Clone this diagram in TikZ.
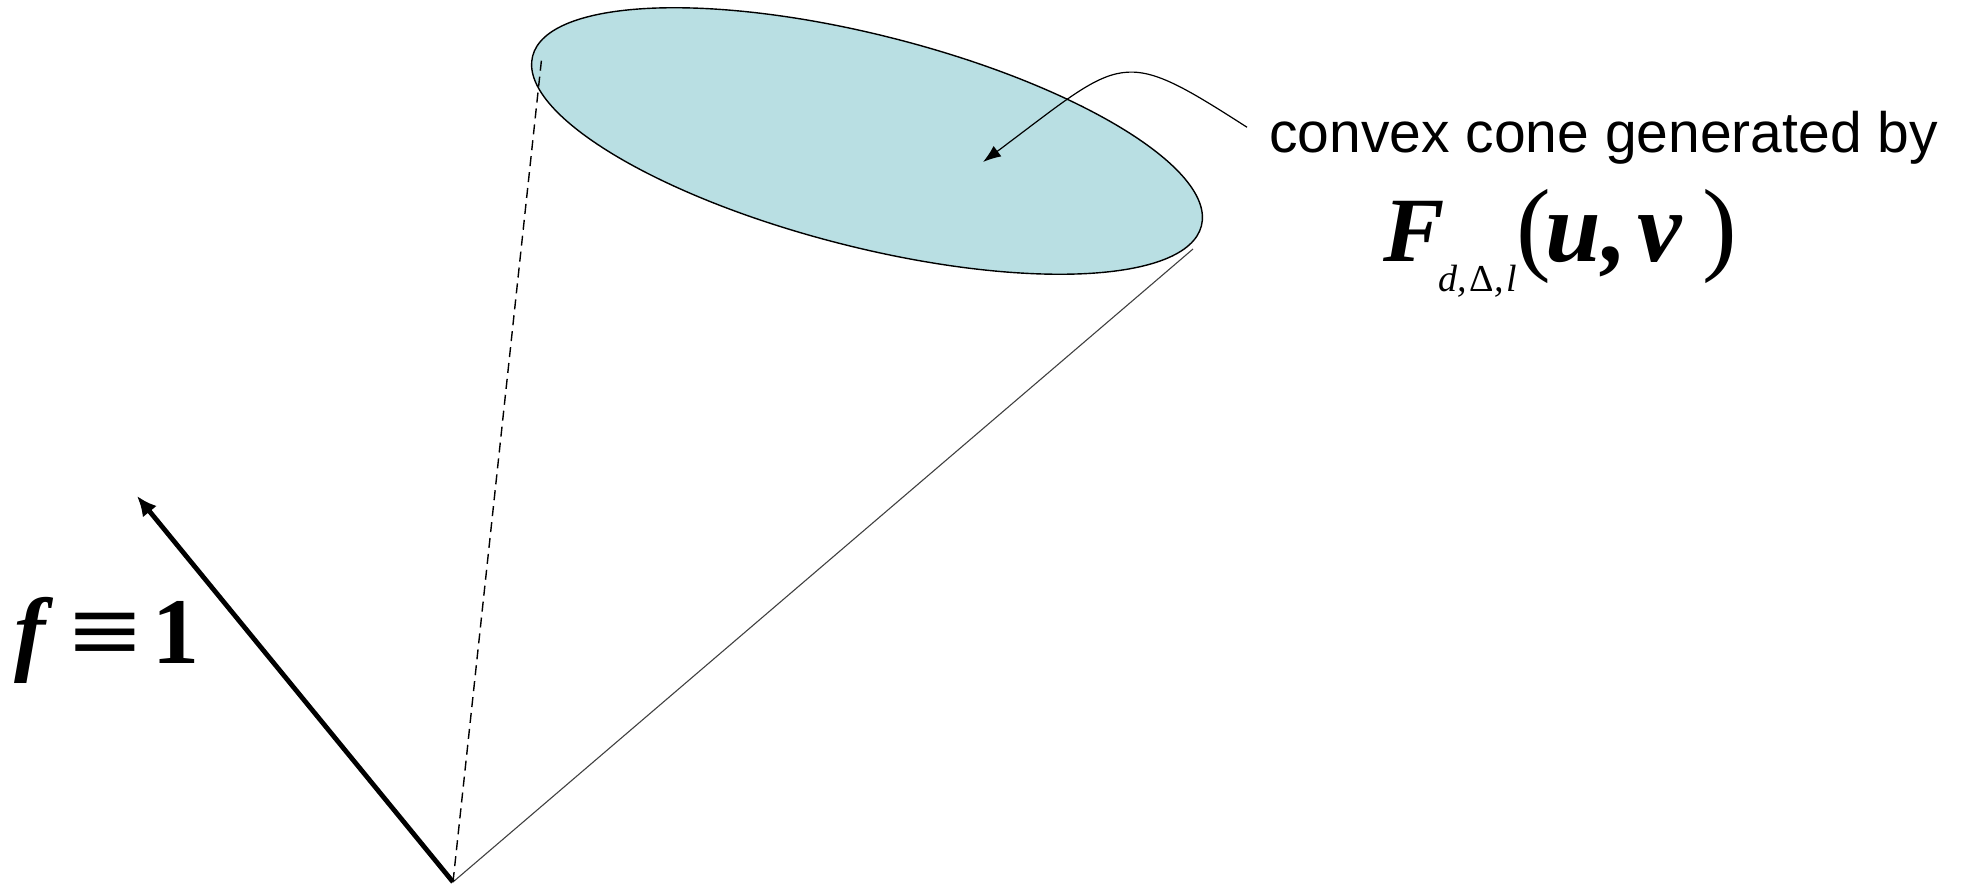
\documentclass[tikz,border=0pt]{standalone}
\usepackage{fontspec}
\setmainfont{Liberation Serif}
\newfontfamily\labelfont{Liberation Sans}
\usetikzlibrary{positioning,arrows.meta,shapes.geometric}
\definecolor{conecyan}{RGB}{185,223,227}

\begin{document}
\begin{tikzpicture}[
    x=0.5pt, y=-0.5pt,
    every node/.style={inner sep=0pt},
    rim/.style={
        draw,
        ellipse,
        line width=0.7pt,
        fill=conecyan,
        minimum width=345pt,
        minimum height=106pt
    },
    side/.style={line width=0.55pt, draw=black!75},
    hidden/.style={line width=0.7pt, dash pattern=on 5pt off 3pt},
    vector/.style={-{Latex[length=10pt,width=9pt]}, line width=2.4pt},
    pointer/.style={-{Latex[length=9pt,width=6.5pt]}, line width=0.6pt}
]
\useasboundingbox (0,0) rectangle (1969,887);

\coordinate (o) at (453,882);
\coordinate (top) at (542,55);
\coordinate (side) at (1193,249);
\coordinate (e) at (137,496);
\coordinate (aim) at (983,162);

\node[rim, rotate=-14.24] (disk) at (867,141) {};
\draw[hidden] (o) -- (top);
\draw[side] (o) -- (side);
\draw[vector] (o) -- (e);

\node[anchor=base west, font=\labelfont\fontsize{28.5pt}{34pt}\selectfont] (lab) at (1269,153) {convex cone generated by};
\node[anchor=base west] (gen) at (1383,262) {\fontsize{46pt}{55pt}\selectfont\bfseries\itshape
    F\kern-3pt\raisebox{-15pt}{\fontsize{19pt}{23pt}\selectfont\mdseries d,\kern1.2pt{\upshape Δ},\kern1.2pt l}{\fontsize{52pt}{62pt}\selectfont\mdseries\upshape (}{\fontsize{50pt}{60pt}\selectfont\kern-3pt u\kern1pt,\kern5pt v\kern10pt}{\fontsize{52pt}{62pt}\selectfont\mdseries\upshape )}};
\node[anchor=base west] (one) at (14,663) {\fontsize{47pt}{56pt}\selectfont{\bfseries\itshape f}\kern12pt\scalebox{1.35}[1]{\bfseries ≡}\kern5pt{\bfseries 1}};

\draw[pointer] ([xshift=-11pt,yshift=5.5pt]lab.west) .. controls (1119,45) and (1125,56) .. (aim);

\end{tikzpicture}
\end{document}
